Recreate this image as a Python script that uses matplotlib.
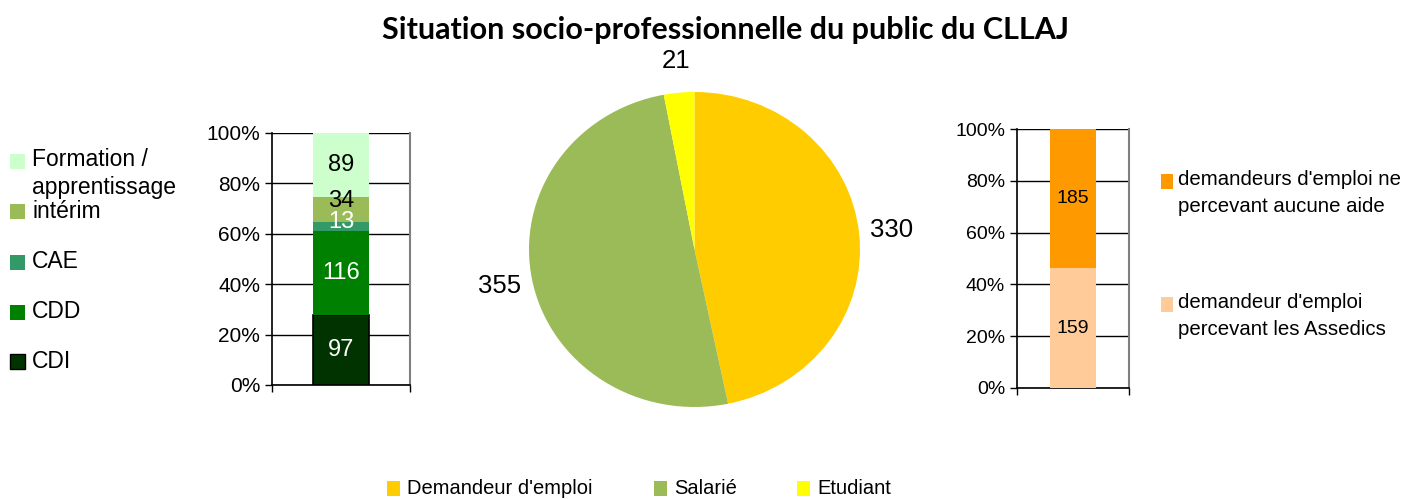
import matplotlib
matplotlib.use("Agg")
import matplotlib.pyplot as plt
from matplotlib.patches import Rectangle

plt.rcParams['font.family'] = ['Liberation Sans', 'DejaVu Sans']

# data
titre = "Situation socio-professionnelle du public du CLLAJ"

contrats = ["CDI", "CDD", "CAE", "intérim", "Formation /\napprentissage"]
contrats_val = [97, 116, 13, 34, 89]
contrats_col = ["#003300", "#008000", "#339966", "#9BBB59", "#CCFFCC"]
contrats_txt = ["white", "white", "white", "black", "black"]

situations = ["Demandeur d'emploi", "Salarié", "Etudiant"]
situations_val = [330, 355, 21]
situations_col = ["#FFCC00", "#9BBB59", "#FFFF00"]

aides = ["demandeur d'emploi\npercevant les Assedics",
         "demandeurs d'emploi ne\npercevant aucune aide"]
aides_val = [159, 185]
aides_col = ["#FFCC99", "#FF9900"]

pct_ticks = [0, 20, 40, 60, 80, 100]

W, H = 1405, 499
fig = plt.figure(figsize=(W / 100, H / 100), dpi=100)


def box(x0, y0, x1, y1):
    # pixel box -> figure fraction [left, bottom, width, height]
    return [x0 / W, 1 - y1 / H, (x1 - x0) / W, (y1 - y0) / H]


def carre(x, y, w, h, c, ec="none"):
    fig.add_artist(Rectangle((x / W, 1 - (y + h) / H), w / W, h / H,
                             transform=fig.transFigure, facecolor=c,
                             edgecolor=ec, linewidth=1))


def texte(x, y, s, **kw):
    fig.text(x / W, 1 - y / H, s, **kw)


def barre_empilee(ax, valeurs, couleurs, couleurs_txt, taille, taille_ticks,
                  bord=None):
    total = sum(valeurs)
    bas = 0
    for i, v in enumerate(valeurs):
        p = v / total * 100
        ec = bord[i] if bord else "none"
        b = ax.bar(0, p, bottom=bas, width=0.82, color=couleurs[i],
                   edgecolor=ec, linewidth=1.2, zorder=3)
        anns = ax.bar_label(b, labels=[str(v)], label_type="center",
                            color=couleurs_txt[i], fontsize=taille, zorder=6)
        # small segments: excel pushes the label up a bit
        if p < 12:
            for a in anns:
                a.xyann = (0, 3 if p < 5 else 6)
        bas += p
    ax.set_xlim(-1, 1)
    ax.set_ylim(0, 100)
    ax.set_yticks(pct_ticks)
    ax.set_yticklabels([f"{t}%" for t in pct_ticks], fontsize=taille_ticks)
    ax.set_xticks([-1, 1])
    ax.set_xticklabels([])
    ax.tick_params(axis="both", direction="out", length=5, width=1)
    ax.yaxis.grid(True, color="black", linewidth=1, zorder=0)
    ax.set_axisbelow(True)
    ax.spines["top"].set_visible(False)
    ax.spines["right"].set_color("#808080")
    ax.spines["right"].set_linewidth(1.5)
    ax.spines["left"].set_linewidth(1.2)
    ax.spines["bottom"].set_linewidth(1.2)


# left stacked bar
ax1 = fig.add_axes(box(272, 133, 410, 385))
barre_empilee(ax1, contrats_val, contrats_col, contrats_txt, 17, 15,
              bord=["black", "none", "none", "none", "none"])

# right stacked bar
ax3 = fig.add_axes(box(1017, 129, 1129, 388))
barre_empilee(ax3, aides_val, aides_col, ["black", "black"], 14, 14)

# pie
ax2 = fig.add_axes(box(529, 92, 860, 407))
wedges, labels = ax2.pie(situations_val, colors=situations_col, startangle=90,
                         counterclock=False,
                         labels=[str(v) for v in situations_val],
                         labeldistance=1.2, textprops={"fontsize": 18.5})
for t in labels:
    t.set_ha("center")
    t.set_va("center")
ax2.set_aspect("auto")
ax2.set_xlim(-1, 1)
ax2.set_ylim(-1, 1)

# title
texte(725, 30, titre, ha="center", va="center", fontsize=22,
      fontweight="bold", family=["Lato", "DejaVu Sans"])

# left legend
leg_y = [361, 312, 262, 212, 161]
for lab, c, y in zip(contrats, contrats_col, leg_y):
    carre(10, y - 7.5, 15, 15, c, ec="black" if c == "#003300" else "none")
    if "\n" in lab:
        texte(32, y - 13, lab, ha="left", va="top", fontsize=16.5,
              linespacing=1.3)
    else:
        texte(32, y, lab, ha="left", va="center", fontsize=16.5)

# right legend
for lab, c, y in zip(aides, aides_col, [304, 181]):
    carre(1161, y - 7.5, 12, 15, c)
    texte(1178, y - 11, lab, ha="left", va="top", fontsize=14.7,
          linespacing=1.55)

# bottom legend
for lab, c, x in zip(situations, situations_col, [387, 654, 797]):
    carre(x, 481, 13, 15, c)
    texte(x + 20, 488, lab, ha="left", va="center", fontsize=14.5)

fig.savefig("out.png", dpi=100)
